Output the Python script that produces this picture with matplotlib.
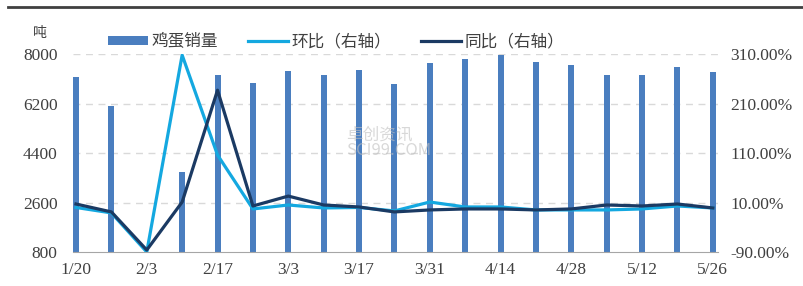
import matplotlib.pyplot as plt
import matplotlib.lines as mlines
import numpy as np

plt.rcParams['font.family'] = ['Noto Sans CJK SC', 'DejaVu Sans']

dates = ['1/20', '1/27', '2/3', '2/10', '2/17', '2/24', '3/3', '3/10', '3/17', '3/24',
         '3/31', '4/7', '4/14', '4/21', '4/28', '5/5', '5/12', '5/19', '5/26']
sales = [7150, 6100, 700, 3700, 7240, 6950, 7380, 7240, 7420, 6910,
         7670, 7820, 7960, 7710, 7600, 7240, 7240, 7530, 7350]
mom = [0, -11, -90, 308, 106, -3, 5, -1, 0, -7,
       11, 1, 1, -5, -5, -5, -3, 3, -1]
yoy = [7, -9, -86, 11, 237, 3, 23, 5, 1, -9,
       -5, -3, -3, -5, -3, 5, 3, 7, -1]

num_font = 'Liberation Serif'
bar_color = '#4A7EBF'
mom_color = '#14A8E0'
yoy_color = '#1B3A63'

fig = plt.figure(figsize=(8.04, 2.86), dpi=100)
ax1 = fig.add_axes([0.0908, 0.1189, 0.802, 0.692])
x = np.arange(len(dates))

# bars
b = ax1.bar(x, sales, width=0.17, color=bar_color, label='鸡蛋销量')
ax1.set_ylim(800, 8000)
ax1.set_yticks([800, 2600, 4400, 6200, 8000])
ax1.set_xlim(-0.085, len(dates) - 1 + 0.14)
ax1.set_xticks(x[::2])
ax1.set_xticklabels(dates[::2])
for yv in [2600, 4400, 6200, 8000]:
    ax1.axhline(yv, color='#D9D9D9', lw=1, ls=(0, (5, 4)), zorder=0)
for s in ['top', 'left', 'right']:
    ax1.spines[s].set_visible(False)
ax1.spines['bottom'].set_color('#A6A6A6')
ax1.tick_params(axis='both', length=0, labelsize=12.5, colors='#404040')
ax1.tick_params(axis='y', pad=11)
ax1.tick_params(axis='x', pad=7)
for t in ax1.get_xticklabels() + ax1.get_yticklabels():
    t.set_fontfamily(num_font)

# lines on right axis
ax2 = ax1.twinx()
l1, = ax2.plot(x, mom, color=mom_color, lw=2.3, label='环比（右轴）')
l2, = ax2.plot(x, yoy, color=yoy_color, lw=2.3, label='同比（右轴）')
ax2.set_ylim(-90, 310)
ax2.set_yticks([-90, 10, 110, 210, 310])
ax2.set_yticklabels(['%.2f%%' % v for v in [-90, 10, 110, 210, 310]])
for s in ['top', 'left', 'right', 'bottom']:
    ax2.spines[s].set_visible(False)
ax2.tick_params(axis='y', length=0, labelsize=12.5, colors='#404040', pad=9)
for t in ax2.get_yticklabels():
    t.set_fontfamily(num_font)

# unit label
fig.text(0.05, 0.885, '吨', fontsize=10, color='#404040', ha='center', va='center')

# watermark
fig.text(0.43, 0.5, '卓创资讯\nSCI99.COM', fontsize=12, color='#BFBFBF', alpha=0.6,
         ha='left', va='center', linespacing=0.9)

# legend
fig.legend([b, l1, l2], ['鸡蛋销量', '环比（右轴）', '同比（右轴）'], ncol=3,
           loc='center left', bbox_to_anchor=(0.12, 0.853), frameon=False,
           fontsize=12, handlelength=2.4, handleheight=0.5, handletextpad=0.2,
           columnspacing=1.8, labelcolor='#404040', borderpad=0.2)

# top rule
fig.add_artist(mlines.Line2D([0.01, 1.0], [0.975, 0.975], color='#404040', lw=2,
                             transform=fig.transFigure))

fig.savefig('out.png', dpi=100)
